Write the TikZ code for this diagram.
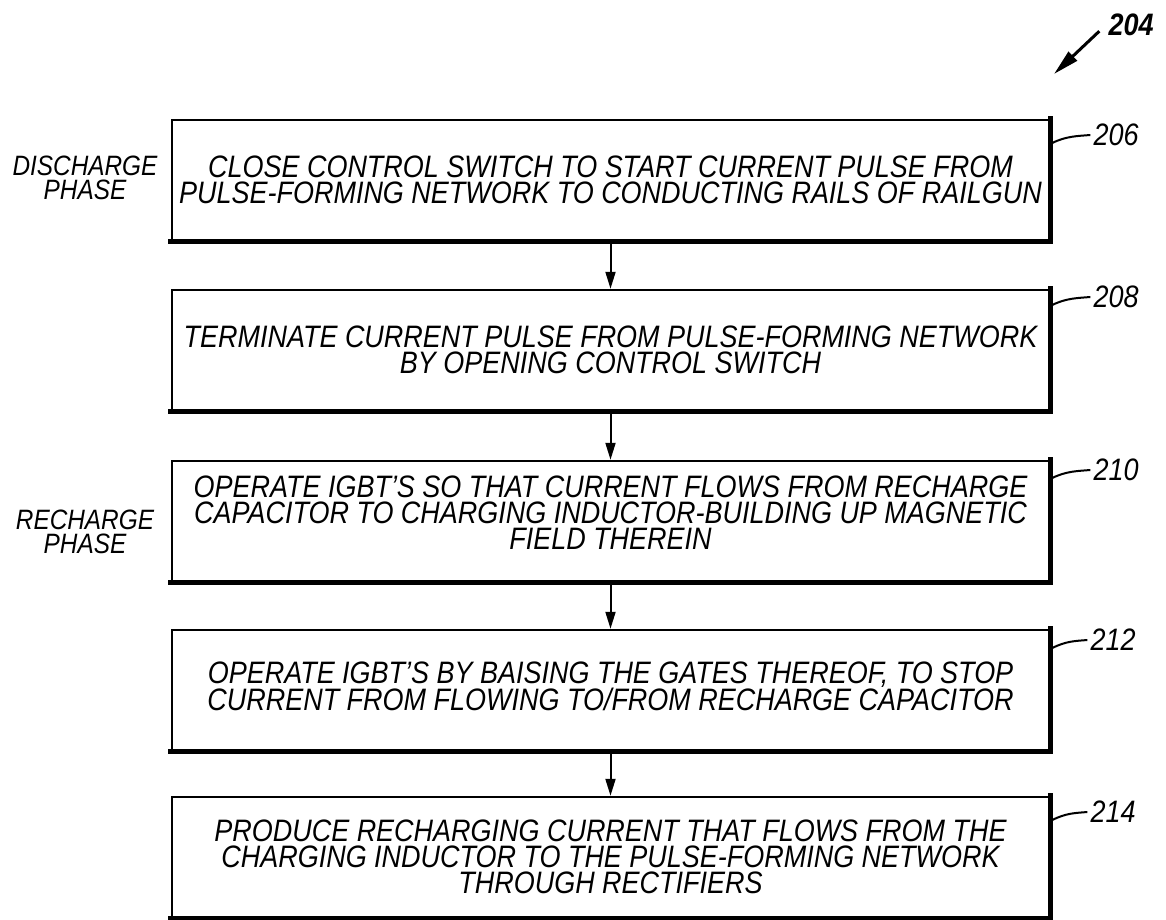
\documentclass[tikz,border=0pt]{standalone}
\usepackage{fontspec}
\setmainfont{Liberation Sans}[FakeStretch=0.87]
\usepackage{tikz}
\usetikzlibrary{arrows.meta, calc}

\tikzset{
  stepbox/.style={draw, line width=2.5pt, minimum width=877pt, minimum height=120pt,
    align=center, inner sep=0pt, font=\fontsize{31}{26}\selectfont\itshape},
  heavyedge/.style={line width=5pt, line cap=rect},
  flow/.style={line width=2pt, -{Triangle[length=17pt,width=10pt]}},
  phase/.style={align=center, font=\fontsize{28}{24}\selectfont\itshape},
  refnum/.style={font=\fontsize{31}{30}\selectfont\itshape, inner sep=3pt},
  leader/.style={line width=2pt},
}

\begin{document}
\begin{tikzpicture}[x=1pt, y=-1pt]
  \useasboundingbox (0,0) rectangle (1166,919);

  %% Process steps
  \node[stepbox] (step206) at (610.5,180) {CLOSE CONTROL SWITCH TO START CURRENT PULSE FROM\\PULSE-FORMING NETWORK TO CONDUCTING RAILS OF RAILGUN};
  \node[stepbox] (step208) at (610.5,350) {TERMINATE CURRENT PULSE FROM PULSE-FORMING NETWORK\\BY OPENING CONTROL SWITCH};
  \node[stepbox, text depth=16pt] (step210) at (610.5,521) {OPERATE IGBT'S SO THAT CURRENT FLOWS FROM RECHARGE\\CAPACITOR TO CHARGING INDUCTOR-BUILDING UP MAGNETIC\\FIELD THEREIN};
  \node[stepbox, text depth=8pt] (step212) at (610.5,690) {OPERATE IGBT'S BY BAISING THE GATES THEREOF, TO STOP\\CURRENT FROM FLOWING TO/FROM RECHARGE CAPACITOR};
  \node[stepbox] (step214) at (610.5,857) {PRODUCE RECHARGING CURRENT THAT FLOWS FROM THE\\CHARGING INDUCTOR TO THE PULSE-FORMING NETWORK\\THROUGH RECTIFIERS};

  %% Heavier right and bottom edges
  \foreach \n in {206,208,210,212,214}
    \draw[heavyedge] (step\n.north east) -- (step\n.south east) -- (step\n.south west);

  %% Flow arrows
  \draw[flow] (step206) -- (step208);
  \draw[flow] (step208) -- (step210);
  \draw[flow] (step210) -- (step212);
  \draw[flow] (step212) -- (step214);

  %% Phase labels
  \node[phase] (discharge) at (85,178) {DISCHARGE\\PHASE};
  \node[phase] (recharge) at (85,532) {RECHARGE\\PHASE};

  %% Reference numerals
  \node[refnum] (ref206) at (1116,135) {206};
  \node[refnum] (ref208) at (1116,297) {208};
  \node[refnum] (ref210) at (1116,470) {210};
  \node[refnum] (ref212) at (1113,640) {212};
  \node[refnum] (ref214) at (1113,812) {214};
  \foreach \n in {206,208,210,212,214}
    \draw[leader] ($(step\n.east |- ref\n.center)+(2,8)$) .. controls +(14,-7) and +(-12,1) .. (ref\n.west);

  %% Figure numeral
  \node[refnum, font=\fontsize{31}{30}\selectfont\bfseries\itshape] (ref204) at (1131,25) {204};
  \coordinate (tip204) at (1054,74);
  \draw[line width=3pt, -{Triangle[length=26pt,width=12pt]}] ([xshift=-6pt,yshift=8pt]ref204.south west) -- (tip204);
\end{tikzpicture}
\end{document}
